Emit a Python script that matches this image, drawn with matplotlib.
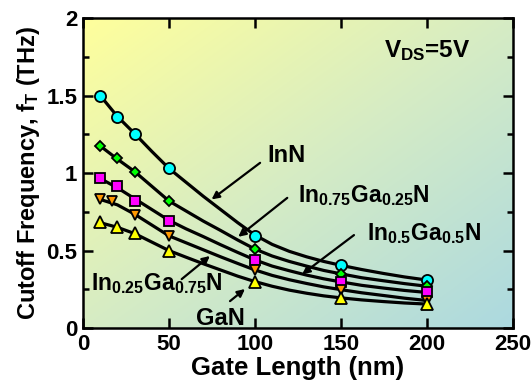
import numpy as np
import matplotlib
matplotlib.use("Agg")
import matplotlib.pyplot as plt
from matplotlib.colors import LinearSegmentedColormap
from matplotlib.ticker import MultipleLocator

plt.rcParams['font.family'] = ['Liberation Sans', 'DejaVu Sans']
plt.rcParams['font.weight'] = 'bold'
plt.rcParams['mathtext.fontset'] = 'custom'
plt.rcParams['mathtext.rm'] = 'Liberation Sans:bold'
plt.rcParams['mathtext.it'] = 'Liberation Sans:bold'
plt.rcParams['mathtext.bf'] = 'Liberation Sans:bold'
plt.rcParams['mathtext.default'] = 'rm'

# measured points (gate length in nm, fT in THz)
gate_len = [10, 20, 30, 50, 100, 150, 200]
gate_len_ingan25 = [10, 17, 30, 50, 100, 150, 200]
ft_inn = [1.50, 1.363, 1.254, 1.03, 0.596, 0.408, 0.308]
ft_ingan75 = [1.175, 1.094, 1.009, 0.818, 0.511, 0.348, 0.27]
ft_ingan50 = [0.966, 0.919, 0.82, 0.694, 0.438, 0.295, 0.23]
ft_ingan25 = [0.833, 0.82, 0.727, 0.594, 0.374, 0.245, 0.175]
ft_gan = [0.684, 0.652, 0.613, 0.50, 0.295, 0.192, 0.154]

# fitted curves
curve_len = [10, 20, 30, 40, 50, 60, 70, 80, 90, 100, 110, 120, 130, 140, 150, 162, 175, 187, 200]
curve_inn = [1.50, 1.365, 1.255, 1.14, 1.03, 0.94, 0.85, 0.765, 0.68, 0.60,
             0.54, 0.495, 0.46, 0.43, 0.405, 0.378, 0.352, 0.33, 0.31]
curve_ingan75 = [1.175, 1.09, 1.01, 0.915, 0.82, 0.755, 0.69, 0.63, 0.568, 0.51,
                 0.465, 0.43, 0.40, 0.372, 0.35, 0.325, 0.305, 0.287, 0.27]
curve_ingan50 = [0.965, 0.905, 0.835, 0.765, 0.695, 0.64, 0.59, 0.538, 0.488, 0.44,
                 0.40, 0.37, 0.342, 0.318, 0.298, 0.276, 0.258, 0.243, 0.23]
curve_ingan25 = [0.83, 0.795, 0.735, 0.665, 0.595, 0.55, 0.505, 0.46, 0.417, 0.375,
                 0.34, 0.312, 0.288, 0.266, 0.248, 0.228, 0.21, 0.193, 0.178]
curve_gan = [0.68, 0.65, 0.61, 0.555, 0.50, 0.457, 0.415, 0.375, 0.335, 0.30,
             0.27, 0.245, 0.225, 0.208, 0.195, 0.182, 0.171, 0.162, 0.155]

fig = plt.figure(figsize=(5.32, 3.92), dpi=100)
ax = fig.add_axes([0.156, 0.163, 0.808, 0.791])

# diagonal yellow -> light teal background
cmap = LinearSegmentedColormap.from_list('bg', ['#ffff9c', '#d6ecc4', '#acd9e0'])
u, v = np.meshgrid(np.linspace(0, 1, 200), np.linspace(0, 1, 200))
grad = (u + v) / 2
ax.imshow(grad, cmap=cmap, extent=[0, 1, 0, 1], transform=ax.transAxes,
          aspect='auto', zorder=0, origin='upper')

for cy in [curve_inn, curve_ingan75, curve_ingan50, curve_ingan25, curve_gan]:
    ax.plot(curve_len, cy, color='k', lw=2.3, zorder=2, solid_capstyle='round',
            solid_joinstyle='round')

mk = dict(ls='none', mec='k', mew=1.3, zorder=3)
ax.plot(gate_len, ft_inn, marker='o', mfc='#00ffff', ms=8, **mk)
ax.plot(gate_len, ft_ingan75, marker='D', mfc='#00ff00', ms=5.5, **mk)
ax.plot(gate_len, ft_ingan50, marker='s', mfc='#ff00ff', ms=7.5, **mk)
ax.plot(gate_len_ingan25, ft_ingan25, marker='v', mfc='#ff9900', ms=7.5, **mk)
ax.plot(gate_len, ft_gan, marker='^', mfc='#ffff00', ms=8, **mk)

ax.set_xlim(0, 250)
ax.set_ylim(0, 2)
ax.set_xticks([0, 50, 100, 150, 200, 250])
ax.set_yticks([0, 0.5, 1, 1.5, 2])
ax.set_yticklabels(['0', '0.5', '1', '1.5', '2'])
ax.yaxis.set_minor_locator(MultipleLocator(0.25))
ax.tick_params(which='both', direction='in', top=True, right=True, width=1.8,
               labelsize=16, pad=4)
ax.tick_params(which='major', length=7)
ax.tick_params(which='minor', length=4.5)
for lab in ax.get_xticklabels() + ax.get_yticklabels():
    lab.set_fontweight('bold')
for s in ax.spines.values():
    s.set_linewidth(1.8)

ax.set_xlabel('Gate Length (nm)', fontsize=18.5, fontweight='bold', labelpad=1)
ax.set_ylabel('Cutoff Frequency, f$_{T}$ (THz)', fontsize=17, fontweight='bold', labelpad=3)

fs = 17
ax.text(175, 1.75, 'V$_{DS}$=5V', fontsize=17.5, fontweight='bold', va='baseline')
ax.text(107, 1.071, 'InN', fontsize=fs, fontweight='bold', va='baseline')
ax.text(125, 0.815, 'In$_{0.75}$Ga$_{0.25}$N', fontsize=16.5, fontweight='bold', va='baseline')
ax.text(165, 0.568, 'In$_{0.5}$Ga$_{0.5}$N', fontsize=16.5, fontweight='bold', va='baseline')
ax.text(4.5, 0.245, 'In$_{0.25}$Ga$_{0.75}$N', fontsize=16.5, fontweight='bold', va='baseline')
ax.text(66, 0.02, 'GaN', fontsize=fs, fontweight='bold', va='baseline')

arrow = dict(arrowstyle='-|>', lw=1.6, color='k', mutation_scale=11, shrinkA=0, shrinkB=0)
for tail, head in [((103, 1.066), (74.8, 0.83)),
                   ((118.8, 0.84), (90.3, 0.589)),
                   ((157.6, 0.60), (127.5, 0.348)),
                   ((57.4, 0.316), (73.8, 0.465)),
                   ((85.5, 0.174), (94.2, 0.252))]:
    ax.annotate('', xy=head, xytext=tail, arrowprops=arrow, zorder=4)

fig.savefig('out.png', dpi=100)
